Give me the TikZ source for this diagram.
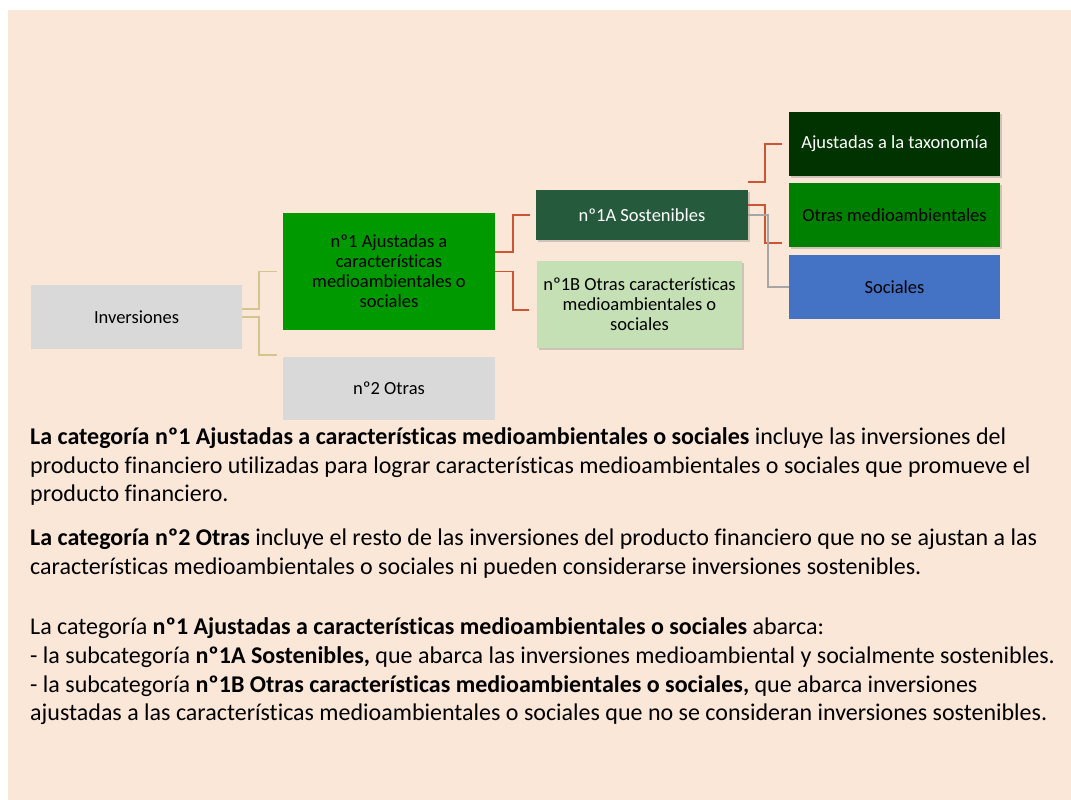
\documentclass[tikz,border=0pt]{standalone}
\usepackage{fontspec}
\setmainfont[Ligatures=NoCommon]{Carlito}
\usetikzlibrary{shadows}
\definecolor{peach}{HTML}{FAE7D7}
\definecolor{boxgray}{HTML}{D9D9D9}
\definecolor{catgreen}{HTML}{009900}
\definecolor{sostgreen}{HTML}{265A3C}
\definecolor{lightgreen}{HTML}{C5E0B4}
\definecolor{taxgreen}{HTML}{003300}
\definecolor{envgreen}{HTML}{008000}
\definecolor{socblue}{HTML}{4472C4}
\definecolor{redline}{HTML}{CC5533}
\definecolor{tanline}{HTML}{D5C48E}
\definecolor{grayline}{HTML}{A6A6A6}
\begin{document}
\begin{tikzpicture}[x=1pt,y=-1pt,
    box/.style={inner sep=0pt, align=center, minimum width=212pt,
      font=\fontsize{18.5}{20}\selectfont},
    shade/.style={drop shadow={opacity=0.35, shadow xshift=2pt, shadow yshift=-2pt}},
    tanconn/.style={draw=tanline, line width=1.5pt},
    redconn/.style={draw=redline, line width=1.8pt},
    grayconn/.style={draw=grayline, line width=1.5pt},
    body/.style={anchor=base west, inner sep=0pt, font=\fontsize{24}{28.5}\selectfont}]
  \useasboundingbox (0,0) rectangle (1071,800);
  \fill[white] (0,0) rectangle (1071,800);
  \fill[peach] (8,10) rectangle (1071,800);

  % Boxes
  \node[box, fill=boxgray, minimum width=211pt, minimum height=64pt] (inv) at (136.5,317) {Inversiones};
  \node[box, fill=catgreen, minimum height=117pt] (n1) at (389,271.5)
    {nº1 Ajustadas a\\características\\medioambientales o\\sociales};
  \node[box, fill=boxgray, minimum height=63pt] (n2) at (389,388.5) {nº2 Otras};
  \node[box, shade, fill=sostgreen, text=white, minimum height=50pt] (n1a) at (642,215) {nº1A Sostenibles};
  \node[box, shade, fill=lightgreen, minimum width=205pt, minimum height=87pt] (n1b) at (639.5,304.5)
    {nº1B Otras características\\medioambientales o\\sociales};
  \node[box, shade, fill=taxgreen, text=white, minimum width=211pt, minimum height=64pt] (tax) at (894.5,144) {Ajustadas a la taxonomía};
  \node[box, shade, fill=envgreen, minimum width=211pt, minimum height=64pt] (env) at (894.5,215) {Otras medioambientales};
  \node[box, fill=socblue, minimum width=211pt, minimum height=64pt] (soc) at (894.5,287) {Sociales};

  % Connectors
  \draw[tanconn] ([yshift=8pt]inv.east) -- ++(17,0) |- ([xshift=-6pt]n1.west);
  \draw[tanconn] (inv.east) -- ++(17,0) |- ([xshift=-6pt,yshift=2pt]n2.north west);
  \draw[redconn] ([yshift=19.5pt]n1.east) -- ++(18,0) |- ([xshift=-6pt]n1a.west);
  \draw[redconn] (n1.east) -- ++(18,0) |- ([xshift=-8pt,yshift=-5.5pt]n1b.west);
  \draw[redconn] ([yshift=8pt]n1a.north east) -- ++(17,0) |- ([xshift=-7pt]tax.west);
  \draw[redconn] ([yshift=10pt]n1a.east) -- ++(17,0) |- ([xshift=-7pt,yshift=4pt]env.south west);
  \draw[grayconn] (n1a.east) -- ++(20,0) |- (soc.west);

  % Text
  \node[body] (t1) at (30,444) {\textbf{La categoría nº1 Ajustadas a características medioambientales o sociales} incluye las inversiones del};
  \node[body] (t2) at (30,473) {producto financiero utilizadas para lograr características medioambientales o sociales que promueve el};
  \node[body] (t3) at (30,501) {producto financiero.};
  \node[body] (t4) at (30,545) {\textbf{La categoría nº2 Otras} incluye el resto de las inversiones del producto financiero que no se ajustan a las};
  \node[body] (t5) at (30,574) {características medioambientales o sociales ni pueden considerarse inversiones sostenibles.};
  \node[body] (t6) at (30,634) {La categoría \textbf{nº1 Ajustadas a características medioambientales o sociales} abarca:};
  \node[body] (t7) at (30,663) {- la subcategoría \textbf{nº1A Sostenibles,} que abarca las inversiones medioambiental y socialmente sostenibles.};
  \node[body] (t8) at (30,692) {- la subcategoría \textbf{nº1B Otras características medioambientales o sociales,} que abarca inversiones};
  \node[body] (t9) at (30,720) {ajustadas a las características medioambientales o sociales que no se consideran inversiones sostenibles.};
\end{tikzpicture}
\end{document}
